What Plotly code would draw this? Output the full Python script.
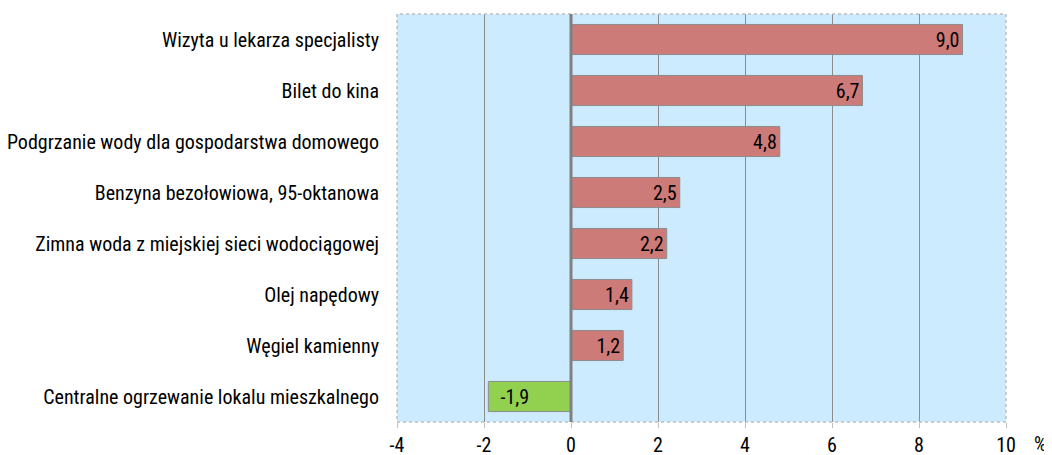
import plotly.graph_objects as go

categories = [
    "Wizyta u lekarza specjalisty",
    "Bilet do kina",
    "Podgrzanie wody dla gospodarstwa domowego",
    "Benzyna bezołowiowa, 95-oktanowa",
    "Zimna woda z miejskiej sieci wodociągowej",
    "Olej napędowy",
    "Węgiel kamienny",
    "Centralne ogrzewanie lokalu mieszkalnego",
]
values = [9.0, 6.7, 4.8, 2.5, 2.2, 1.4, 1.2, -1.9]
tick_vals = [-4, -2, 0, 2, 4, 6, 8, 10]

FONT = "Roboto Condensed, DejaVu Sans Condensed, sans-serif"
FS = 20

colors = ["#CD7B78" if v >= 0 else "#92D050" for v in values]
labels = [("" if v >= 0 else "\u00a0\u00a0") + f"{v:.1f}".replace(".", ",") for v in values]

fig = go.Figure(go.Bar(
    x=values, y=categories, orientation="h",
    marker=dict(color=colors, line=dict(color="#8C8C8C", width=1)),
    width=0.59,
    text=labels, textposition="inside", insidetextanchor="end",
    textfont=dict(family=FONT, size=FS, color="#000000"),
    cliponaxis=False,
))

fig.update_layout(
    width=1052, height=455,
    margin=dict(l=389, r=54, t=6, b=41),
    paper_bgcolor="white", plot_bgcolor="#CCEBFF",
    font=dict(family=FONT, size=FS, color="#000000"),
    showlegend=False,
    xaxis=dict(range=[-4, 10], tickvals=tick_vals, ticktext=[str(t) for t in tick_vals],
               showgrid=True, gridcolor="#8C8C8C", gridwidth=1, automargin=False,
               zeroline=False, ticks="outside", ticklen=5, tickcolor="#BFBFBF",
               showline=False, tickfont=dict(family=FONT, size=FS)),
    yaxis=dict(autorange="reversed", showgrid=False, zeroline=False, automargin=False,
               ticks="", ticklabelstandoff=17, tickfont=dict(family=FONT, size=FS)),
    shapes=[
        dict(type="rect", xref="paper", yref="paper", x0=0, x1=1, y0=0, y1=1,
             line=dict(color="#BFBFBF", width=1.5, dash="dot"), layer="above"),
        dict(type="line", xref="x", yref="paper", x0=0, x1=0, y0=0, y1=1,
             line=dict(color="#808080", width=3), layer="above"),
    ],
    annotations=[
        dict(text="%", xref="paper", yref="paper", x=1.056, y=0, yshift=-8,
             xanchor="center", yanchor="top", showarrow=False,
             font=dict(family=FONT, size=FS)),
    ],
)

fig.write_html("out.html")
